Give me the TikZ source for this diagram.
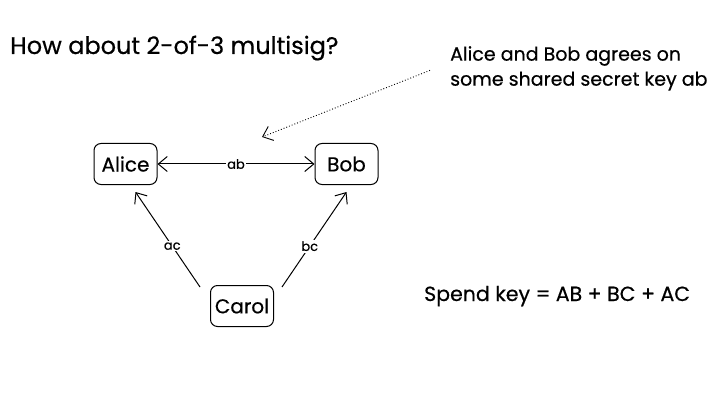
\documentclass[tikz,border=0pt]{standalone}
\usepackage{fontspec}
\setmainfont{Poppins}[UprightFeatures={FakeBold=0.5}]
\usetikzlibrary{positioning,arrows.meta}

\tikzset{
  party/.style={draw, rounded corners=7pt, minimum width=63pt, minimum height=41pt, line width=1pt, font=\fontsize{20}{24}\selectfont},
  link/.style={line width=1pt},
  lbl/.style={fill=white, inner sep=1.5pt, font=\fontsize{13}{15}\selectfont}
}

\begin{document}
\begin{tikzpicture}[x=1pt, y=-1pt, >={Straight Barb[length=9pt,width=15pt]}]
\useasboundingbox (0,0) rectangle (716,412);
% texts
\node[anchor=base west, inner sep=0pt, font=\fontsize{24}{28}\selectfont] (title) at (10,54) {How about 2-of-3 multisig?};
\node[anchor=north west, inner sep=0pt, align=left, font=\fontsize{19}{25}\selectfont] (note) at (450,46) {Alice and Bob agrees on\\some shared secret key ab};
\node[anchor=base west, inner sep=0pt, font=\fontsize{20.5}{24}\selectfont] (spend) at (424,301) {Spend key = AB + BC + AC};
% parties
\node[party] (alice) at (125.5,164) {Alice};
\node[party, right=157pt of alice] (bob) {Bob};
\node[party] (carol) at (242,306) {Carol};
% keys
\draw[link, <->] (alice) -- node[lbl] {ab} (bob);
\draw[link, ->] ([xshift=-10pt,yshift=-2pt]carol.north west) -- node[lbl, pos=0.43] {ac} ([xshift=10pt,yshift=-7pt]alice.south);
\draw[link, ->] ([xshift=8pt,yshift=-2pt]carol.north east) -- node[lbl, pos=0.43] {bc} ([yshift=-7pt]bob.south);
\coordinate (hint) at (262,137);
\draw[dotted, line width=0.9pt, ->] ([xshift=-20pt,yshift=-2pt]note.west) -- (hint);
\end{tikzpicture}
\end{document}
